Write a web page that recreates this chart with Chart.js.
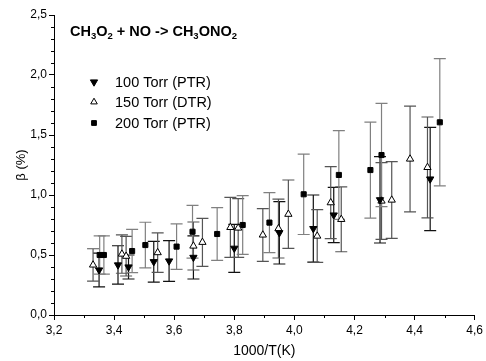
<!DOCTYPE html>
<html>
<head>
<meta charset="utf-8">
<script src="https://cdn.jsdelivr.net/npm/chart.js@4/dist/chart.umd.min.js"></script>
<style>
  html, body { margin: 0; padding: 0; background: #fff; }
</style>
</head>
<body>
<canvas id="chart" width="486" height="361"></canvas>
<script>
// 100 Torr (PTR) - filled down triangles
const x100 = [3.350, 3.413, 3.448, 3.532, 3.583, 3.664, 3.800, 3.950, 4.063, 4.131, 4.285, 4.452];
const y100 = [0.375, 0.417, 0.400, 0.444, 0.450, 0.480, 0.556, 0.685, 0.720, 0.833, 0.960, 1.133];
const err100 = [0.14, 0.16, 0.10, 0.17, 0.17, 0.18, 0.20, 0.26, 0.28, 0.23, 0.36, 0.43];

// 150 Torr (DTR) - open triangles
const x150 = [3.330, 3.426, 3.440, 3.545, 3.664, 3.694, 3.787, 3.813, 3.895, 3.947, 3.980, 4.076, 4.121, 4.156, 4.290, 4.324, 4.385, 4.443];
const y150 = [0.417, 0.508, 0.490, 0.520, 0.575, 0.606, 0.730, 0.725, 0.667, 0.720, 0.840, 0.658, 0.936, 0.797, 0.950, 0.958, 1.300, 1.230];
const err150 = [0.135, 0.16, 0.165, 0.165, 0.20, 0.20, 0.25, 0.245, 0.22, 0.245, 0.285, 0.22, 0.30, 0.27, 0.32, 0.32, 0.44, 0.42];

// 200 Torr (PTR) - filled squares
const x200 = [3.352, 3.366, 3.460, 3.504, 3.608, 3.661, 3.743, 3.828, 3.917, 4.031, 4.148, 4.253, 4.290, 4.484];
const y200 = [0.500, 0.500, 0.533, 0.583, 0.570, 0.694, 0.675, 0.750, 0.770, 1.006, 1.167, 1.208, 1.333, 1.606];
const err200 = [0.16, 0.16, 0.18, 0.19, 0.19, 0.22, 0.22, 0.245, 0.25, 0.335, 0.37, 0.40, 0.43, 0.53];

const seriesLabels = ["100 Torr (PTR)", "150 Torr (DTR)", "200 Torr (PTR)"];
const xTitle = "1000/T(K)";
const yTitle = "β (%)";

const FONT = "'Liberation Sans', Arial, sans-serif";

function toPoints(xs, ys) {
    return xs.map((x, i) => ({ x, y: ys[i] }));
}

function comma(v) {
    return v.toFixed(1).replace(".", ",");
}

// error bars, drawn under the markers
const errorBars = {
    id: "errorBars",
    beforeDatasetsDraw(chart) {
        const { ctx, scales: { x, y } } = chart;
        chart.data.datasets.forEach(ds => {
            ctx.save();
            ctx.strokeStyle = ds.errColor;
            ctx.lineWidth = 1.2;
            ds.data.forEach((p, i) => {
                const px = x.getPixelForValue(p.x);
                const top = y.getPixelForValue(p.y + ds.errors[i]);
                const bot = y.getPixelForValue(p.y - ds.errors[i]);
                ctx.beginPath();
                ctx.moveTo(px, top);
                ctx.lineTo(px, bot);
                ctx.moveTo(px - 6, top);
                ctx.lineTo(px + 6, top);
                ctx.moveTo(px - 6, bot);
                ctx.lineTo(px + 6, bot);
                ctx.stroke();
            });
            ctx.restore();
        });
    }
};

// minor ticks, title with subscripts, legend in the plot
const decorations = {
    id: "decorations",
    afterDraw(chart) {
        const c = chart.ctx;
        const area = chart.chartArea;
        const { x, y } = chart.scales;
        c.save();
        c.strokeStyle = "#000";
        c.lineWidth = 1;
        c.beginPath();
        for (let k = 1; k < 14; k += 2) {
            const px = Math.round(x.getPixelForValue(3.2 + k * 0.1)) + 0.5;
            c.moveTo(px, area.bottom);
            c.lineTo(px, area.bottom + 3);
        }
        for (let k = 1; k < 25; k++) {
            if (k % 5 === 0) continue;
            const py = Math.round(y.getPixelForValue(k * 0.1)) + 0.5;
            c.moveTo(area.left - 3, py);
            c.lineTo(area.left, py);
        }
        c.stroke();

        // CH3O2 + NO -> CH3ONO2
        const parts = [["CH", 0], ["3", 1], ["O", 0], ["2", 1], [" + NO -> CH", 0], ["3", 1], ["ONO", 0], ["2", 1]];
        let tx = 70;
        const ty = 36;
        c.fillStyle = "#000";
        c.textBaseline = "alphabetic";
        parts.forEach(([t, sub]) => {
            c.font = sub ? `bold 9.5px ${FONT}` : `bold 14.5px ${FONT}`;
            c.fillText(t, tx, sub ? ty + 3 : ty);
            tx += c.measureText(t).width;
        });

        const rows = [82, 102, 123];
        c.textBaseline = "middle";
        chart.data.datasets.forEach((ds, i) => {
            c.fillStyle = ds.backgroundColor;
            c.strokeStyle = ds.borderColor;
            c.lineWidth = 1;
            Chart.helpers.drawPoint(c, {
                pointStyle: ds.pointStyle,
                rotation: ds.rotation,
                radius: ds.legendRadius,
                borderWidth: 1
            }, 94, rows[i]);
            c.fillStyle = "#000";
            c.font = `14.5px ${FONT}`;
            c.fillText(ds.label, 115, rows[i] + 1);
        });
        c.restore();
    }
};

const ctx = document.getElementById("chart").getContext("2d");

const chart = new Chart(ctx, {
    type: "scatter",
    data: {
        datasets: [
            {
                label: seriesLabels[0],
                data: toPoints(x100, y100),
                errors: err100,
                errColor: "#111",
                pointStyle: "triangle",
                rotation: 180,
                pointRadius: 4.2,
                legendRadius: 4.2,
                backgroundColor: "#000",
                borderColor: "#000",
                borderWidth: 1
            },
            {
                label: seriesLabels[1],
                data: toPoints(x150, y150),
                errors: err150,
                errColor: "#555",
                pointStyle: "triangle",
                rotation: 0,
                pointRadius: 4.2,
                legendRadius: 3.8,
                backgroundColor: "#fff",
                borderColor: "#000",
                borderWidth: 1
            },
            {
                label: seriesLabels[2],
                data: toPoints(x200, y200),
                errors: err200,
                errColor: "#808080",
                pointStyle: "rect",
                rotation: 0,
                pointRadius: 3.6,
                legendRadius: 3.4,
                backgroundColor: "#000",
                borderColor: "#000",
                borderWidth: 1
            }
        ]
    },
    options: {
        responsive: false,
        animation: false,
        layout: { padding: { left: 0, right: 8, top: 15, bottom: 0 } },
        plugins: {
            legend: { display: false },
            tooltip: { enabled: false }
        },
        scales: {
            x: {
                type: "linear",
                min: 3.2,
                max: 4.6,
                ticks: {
                    stepSize: 0.2,
                    autoSkip: false,
                    maxRotation: 0,
                    padding: 3,
                    color: "#000",
                    font: { family: FONT, size: 12 },
                    callback: v => comma(v)
                },
                grid: { drawOnChartArea: false, tickLength: 5, color: "#000" },
                border: { color: "#000", width: 1 },
                title: {
                    display: true,
                    text: xTitle,
                    color: "#000",
                    font: { family: FONT, size: 14 },
                    padding: { top: 0, bottom: 1 }
                },
                afterFit: s => { s.height = 46; }
            },
            y: {
                type: "linear",
                min: 0,
                max: 2.5,
                ticks: {
                    stepSize: 0.5,
                    padding: 2,
                    color: "#000",
                    font: { family: FONT, size: 12 },
                    callback: v => comma(v)
                },
                grid: { drawOnChartArea: false, tickLength: 5, color: "#000" },
                border: { color: "#000", width: 1 },
                title: {
                    display: true,
                    text: yTitle,
                    color: "#000",
                    font: { family: FONT, size: 13 },
                    padding: { top: 14, bottom: 0 }
                },
                afterFit: s => { s.width = 54; }
            }
        }
    },
    plugins: [errorBars, decorations]
});
</script>
</body>
</html>
